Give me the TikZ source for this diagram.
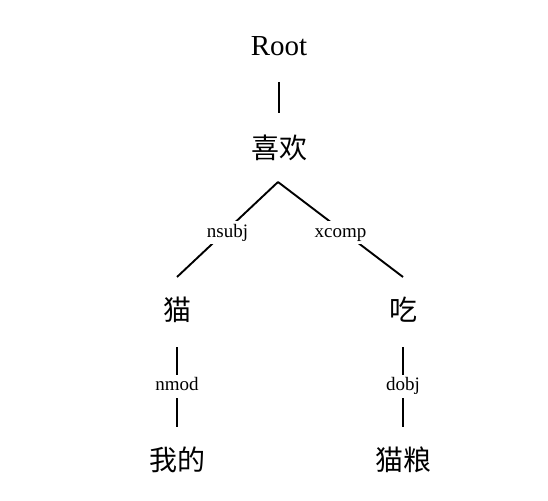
\documentclass[tikz,border=0pt]{standalone}
\usepackage{fontspec}
\setmainfont{Liberation Serif}
\newfontfamily\cjk{Noto Sans CJK SC}
\begin{document}
\begin{tikzpicture}[x=1pt,y=-1pt,
  word/.style={inner sep=0pt, font=\cjk\fontsize{28}{30}\selectfont},
  rootword/.style={inner sep=0pt, anchor=base, font=\fontsize{29}{32}\selectfont},
  dep/.style={fill=white, inner sep=3pt, text height=13pt, text depth=4pt, font=\fontsize{19}{21}\selectfont},
  edge/.style={line width=1.9pt, black}]
\useasboundingbox (0,0) rectangle (548,500);
\node[rootword] (root) at (279,56) {Root};
\node[word] (xihuan) at (279,148) {喜欢};
\node[word] (mao) at (177,310) {猫};
\node[word] (chi) at (403,310) {吃};
\node[word] (wode) at (177,460) {我的};
\node[word] (maoliang) at (403,460) {猫粮};
\coordinate (apex) at (278,182);
\coordinate (ml) at (177,277);
\coordinate (mr) at (403,277);
\draw[edge, shorten <=26pt, shorten >=35pt] (root.base) -- (xihuan.center);
\draw[edge] (apex) -- node[dep, yshift=-3pt] {nsubj} (ml);
\draw[edge] (apex) -- node[dep, yshift=-3pt] {xcomp} (mr);
\draw[edge, shorten <=37pt, shorten >=33pt] (mao.center) -- node[dep, yshift=-1pt] {nmod} (wode.center);
\draw[edge, shorten <=37pt, shorten >=33pt] (chi.center) -- node[dep, yshift=-1pt] {dobj} (maoliang.center);
\end{tikzpicture}
\end{document}
